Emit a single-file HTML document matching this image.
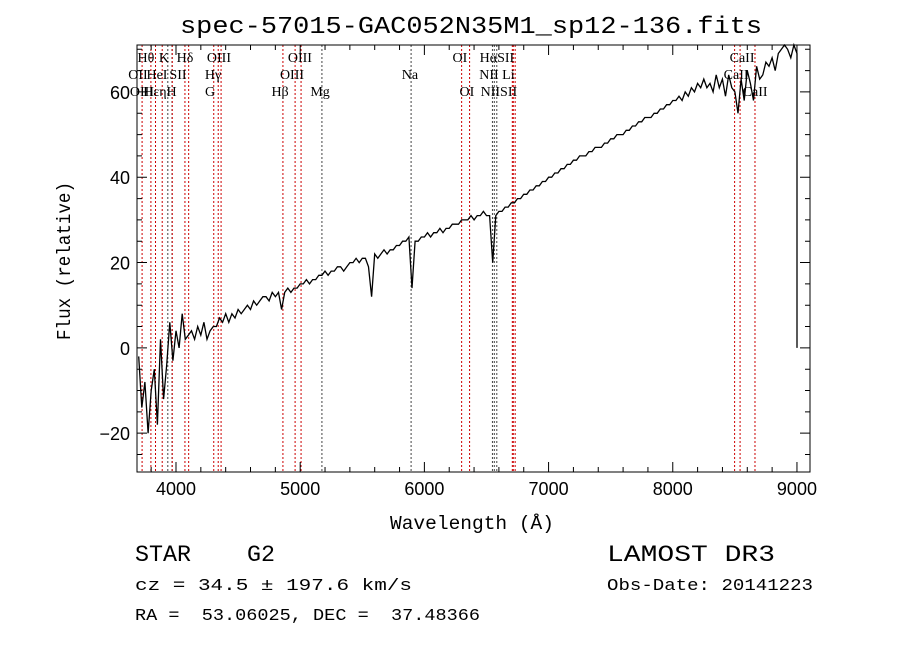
<!DOCTYPE html>
<html><head><meta charset="utf-8"><style>
body{margin:0;background:#fff;width:900px;height:649px;overflow:hidden}
svg text{font-family:"Liberation Sans",sans-serif;white-space:pre}
.lbl{font-family:"Liberation Serif",serif;font-size:14px}
.mono{font-family:"Liberation Mono",monospace}
</style></head><body>
<svg id="c" width="900" height="649" xmlns="http://www.w3.org/2000/svg">
<rect width="900" height="649" fill="#fff"/>
<text x="180" y="33" font-size="24" class="mono" textLength="582" lengthAdjust="spacingAndGlyphs">spec-57015-GAC052N35M1_sp12-136.fits</text>
<text x="390" y="529" font-size="19" class="mono" textLength="164" lengthAdjust="spacingAndGlyphs">Wavelength (Å)</text>
<text transform="translate(70,340) rotate(-90)" font-size="19" class="mono" textLength="158" lengthAdjust="spacingAndGlyphs">Flux (relative)</text>
<text x="135" y="561" font-size="23" class="mono" textLength="140" lengthAdjust="spacingAndGlyphs">STAR    G2</text>
<text x="607" y="561" font-size="23" class="mono" textLength="168" lengthAdjust="spacingAndGlyphs">LAMOST DR3</text>
<text x="135" y="590" font-size="17" class="mono" textLength="277" lengthAdjust="spacingAndGlyphs">cz = 34.5 ± 197.6 km/s</text>
<text x="607" y="590" font-size="17" class="mono" textLength="206" lengthAdjust="spacingAndGlyphs">Obs-Date: 20141223</text>
<text x="135" y="620" font-size="17" class="mono" textLength="345" lengthAdjust="spacingAndGlyphs">RA =  53.06025, DEC =  37.48366</text>
<g id="plot"></g>
</svg>
<script>
const wlStart = 3700, wlStep = 25;
const flux = [-2,-14,-8,-20,-10,-5,-18,2,-12,
-4,6,-3,4,0,8,2,3,
4,2,5,3,6,2,4,5,
5,7,6,8,6,8,7,9,
8,9,10,9,11,10,11,12,
12,11,13,12,13,9,13,14,
13,14,14,15,15,16,15,16,
16,17,17,18,17,18,18,19,
19,18,19,20,20,21,20,21,
21,19,12,22,21,22,23,22,
23,23,24,24,25,25,26,14,
25,25,26,26,27,26,27,27,
28,27,28,28,29,29,29,30,
30,30,31,30,31,31,32,31,
31,20,31,32,32,33,33,34,
34,35,35,36,36,37,37,38,
38,39,39,40,40,41,41,42,
42,43,43,44,44,45,45,45,
46,46,47,47,47,48,48,49,
49,50,50,50,51,51,52,52,
53,53,54,54,54,55,55,56,
56,57,57,58,58,59,58,60,
59,61,60,62,61,63,61,62,
60,64,61,63,59,64,61,60,
55,63,58,65,62,58,66,63,
64,67,66,68,65,69,70,71,
70,68,71,69,0];
const lineWl = [3727,3798,3835,3889,3934,3968,3970,4072,4102,4304,4340,4363,4861,4959,5007,5175,5893,6300,6364,6548,6563,6583,6708,6716,6731,8498,8542,8662];
const lineColor = ["r","r","r","r","k","k","r","r","r","r","r","r","r","r","r","k","k","r","r","k","k","k","r","r","r","r","r","r"];
const labelText = ["Hθ","K","Hδ","OIII","OIII","OI","HαSII","CaII","OII","HeI","SII","Hγ","OIII","Na","NII Li","CaII","OIII","HεηH","G","Hβ","Mg","OI","NIISII","CaII"];
const labelWl = [3758,3903,4072,4346,4998,6286,6584,8558,3694,3847,4016,4298,4934,5884,6584,8510,3726,3871,4274,4838,5160,6342,6600,8663];
const labelRow = [0,0,0,0,0,0,0,0,1,1,1,1,1,1,1,1,2,2,2,2,2,2,2,2];
const xTicks = [4000,5000,6000,7000,8000,9000];
const yTicks = [-20,0,20,40,60];

const L=137,R=810,T=45,B=472;
const xmin=3686,xmax=9105,ymin=-29.1,ymax=71;
const X=w=>L+(w-xmin)/(xmax-xmin)*(R-L);
const Y=v=>B-(v-ymin)/(ymax-ymin)*(B-T);
const g=document.getElementById('plot');
const NS="http://www.w3.org/2000/svg";
function mk(t,a){const e=document.createElementNS(NS,t);for(const k in a)e.setAttribute(k,a[k]);g.appendChild(e);return e;}

lineWl.forEach((w,i)=>{
  const e=mk('line',{x1:X(w),x2:X(w),y1:T,y2:B,stroke:lineColor[i]==="r"?"#c00":"#444","stroke-width":1,"stroke-dasharray":"2,2"});
  
  
});
labelText.forEach((t,i)=>{
  const e=mk('text',{x:X(labelWl[i]),y:62+labelRow[i]*17,class:'lbl',"text-anchor":"middle"});
  e.textContent=t;
  
  
});

let d="";
flux.forEach((v,i)=>{const w=i<flux.length-1?wlStart+wlStep*i:wlStart+wlStep*(i-1);d+=(i?"L":"M")+X(w).toFixed(1)+","+Y(v).toFixed(1);});
const p=mk('path',{d:d,fill:"none",stroke:"#000","stroke-width":1.3});



const fr=mk('rect',{x:L,y:T,width:R-L,height:B-T,fill:"none",stroke:"#000","stroke-width":1});



let td="";
for(let w=3800;w<=9100;w+=200){const big=w%1000===0;const l=big?10:5;td+=`M${X(w)},${B}v${-l}M${X(w)},${T}v${l}`;}
for(let v=-25;v<=70;v+=5){const big=v%20===0;const l=big?10:5;td+=`M${L},${Y(v)}h${l}M${R},${Y(v)}h${-l}`;}
const tk=mk('path',{d:td,stroke:"#000","stroke-width":1,fill:"none"});



xTicks.forEach(w=>{const e=mk('text',{x:X(w),y:B+23,"text-anchor":"middle","font-size":18});e.textContent=w;

});
yTicks.forEach(v=>{const e=mk('text',{x:L-7,y:Y(v)+7,"text-anchor":"end","font-size":18});e.textContent=v<0?"−"+(-v):v;

});
</script>
</body></html>
